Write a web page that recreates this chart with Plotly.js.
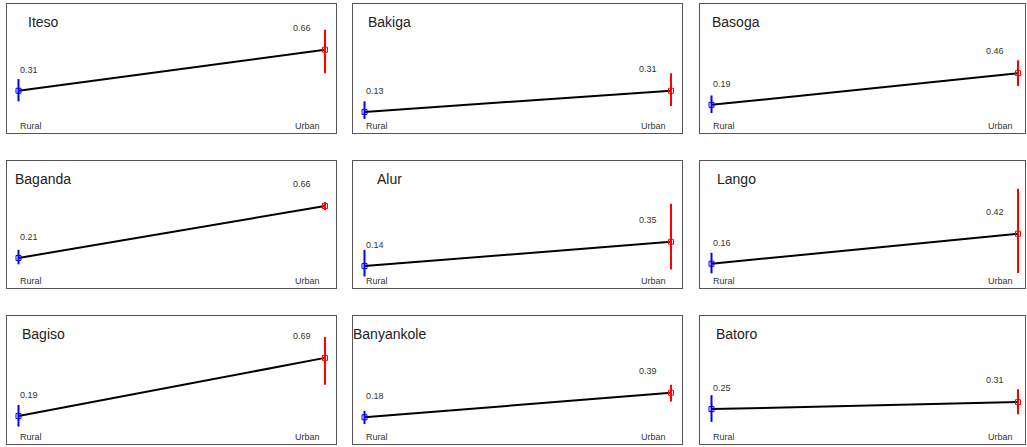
<!DOCTYPE html>
<html>
<head>
<meta charset="utf-8">
<script src="https://cdn.plot.ly/plotly-3.0.1.min.js"></script>
<style>html,body{margin:0;padding:0;background:#fff;overflow:hidden;}</style>
</head>
<body>
<div id="chart" style="width:1027px;height:447px;"></div>
<script>
const groups = ['Iteso','Bakiga','Basoga','Baganda','Alur','Lango','Bagiso','Banyankole','Batoro'];
const categories = ['Rural','Urban'];
const rural = [0.31,0.13,0.19,0.21,0.14,0.16,0.19,0.18,0.25];
const urban = [0.66,0.31,0.46,0.66,0.35,0.42,0.69,0.39,0.31];
const ruralErrPlus  = [0.10,0.09,0.08,0.07,0.14,0.095,0.095,0.055,0.12];
const ruralErrMinus = [0.09,0.06,0.07,0.055,0.09,0.083,0.09,0.058,0.11];
const urbanErrPlus  = [0.17,0.15,0.11,0.035,0.33,0.39,0.18,0.07,0.11];
const urbanErrMinus = [0.20,0.13,0.11,0.035,0.24,0.34,0.23,0.075,0.105];

const W = 1027, H = 447;
const colLeft = [7, 353, 700];
const colRight = [336, 682, 1025];
const rowTop = [4, 161, 316];
const rowBottom = [133, 288, 444];
const ptOffset = 11.5, pxPerUnit = 306.5;

const traces = [];
const layout = {
  width: W, height: H,
  margin: {l:0, r:0, t:0, b:0},
  paper_bgcolor: '#fff', plot_bgcolor: '#fff',
  showlegend: false,
  font: {family: 'Liberation Sans, Arial, sans-serif', color: '#333'},
  annotations: []
};

groups.forEach((g, i) => {
  const r = Math.floor(i / 3), c = i % 3;
  const n = i + 1;
  const xa = 'x' + (n === 1 ? '' : n), ya = 'y' + (n === 1 ? '' : n);
  const xk = 'xaxis' + (n === 1 ? '' : n), yk = 'yaxis' + (n === 1 ? '' : n);
  const wpx = colRight[c] - colLeft[c];
  const x0 = -ptOffset / pxPerUnit;
  const x1 = x0 + wpx / pxPerUnit;
  const axCommon = {showticklabels:false, showgrid:false, zeroline:false, showline:true, mirror:true, linecolor:'#555', linewidth:1, ticks:'', fixedrange:true};
  layout[xk] = Object.assign({}, axCommon, {domain:[colLeft[c]/W, colRight[c]/W], range:[x0, x1], anchor: ya});
  layout[yk] = Object.assign({}, axCommon, {domain:[1 - rowBottom[r]/H, 1 - rowTop[r]/H], range:[-0.05, 1.05], anchor: xa});

  traces.push({x:[0,1], y:[rural[i], urban[i]], xaxis:xa, yaxis:ya, mode:'lines', line:{color:'#000', width:2}, hoverinfo:'skip'});
  traces.push({x:[0], y:[rural[i]], xaxis:xa, yaxis:ya, mode:'markers',
    marker:{symbol:'square-open', size:5, color:'#0000ff', line:{width:1, color:'#0000ff'}},
    error_y:{type:'data', symmetric:false, array:[ruralErrPlus[i]], arrayminus:[ruralErrMinus[i]], color:'#0000ff', thickness:2, width:0}});
  traces.push({x:[1], y:[urban[i]], xaxis:xa, yaxis:ya, mode:'markers',
    marker:{symbol:'square-open', size:5, color:'#ff0000', line:{width:1, color:'#ff0000'}},
    error_y:{type:'data', symmetric:false, array:[urbanErrPlus[i]], arrayminus:[urbanErrMinus[i]], color:'#ff0000', thickness:2, width:0}});

  const A = layout.annotations;
  A.push({text:g, xref:xa+' domain', yref:ya+' domain', x:36/wpx, y:1, yshift:-18, xanchor:'center', yanchor:'middle', showarrow:false, font:{size:14, color:'#222'}});
  A.push({text:rural[i].toFixed(2), xref:xa, yref:ya, x:0, y:rural[i], xshift:-1, yshift:21, xanchor:'left', yanchor:'middle', showarrow:false, font:{size:9, color:'#333'}});
  A.push({text:urban[i].toFixed(2), xref:xa, yref:ya, x:1, y:urban[i], xshift:-12, yshift:22, xanchor:'right', yanchor:'middle', showarrow:false, font:{size:9, color:'#333'}});
  A.push({text:categories[0], xref:xa, yref:ya+' domain', x:0, y:0, xshift:-1, yshift:7, xanchor:'left', yanchor:'middle', showarrow:false, font:{size:9, color:'#333'}});
  A.push({text:categories[1], xref:xa, yref:ya+' domain', x:1, y:0, xshift:-3, yshift:7, xanchor:'right', yanchor:'middle', showarrow:false, font:{size:9, color:'#333'}});
});

Plotly.newPlot('chart', traces, layout, {displayModeBar:false, staticPlot:true});
</script>
</body>
</html>
